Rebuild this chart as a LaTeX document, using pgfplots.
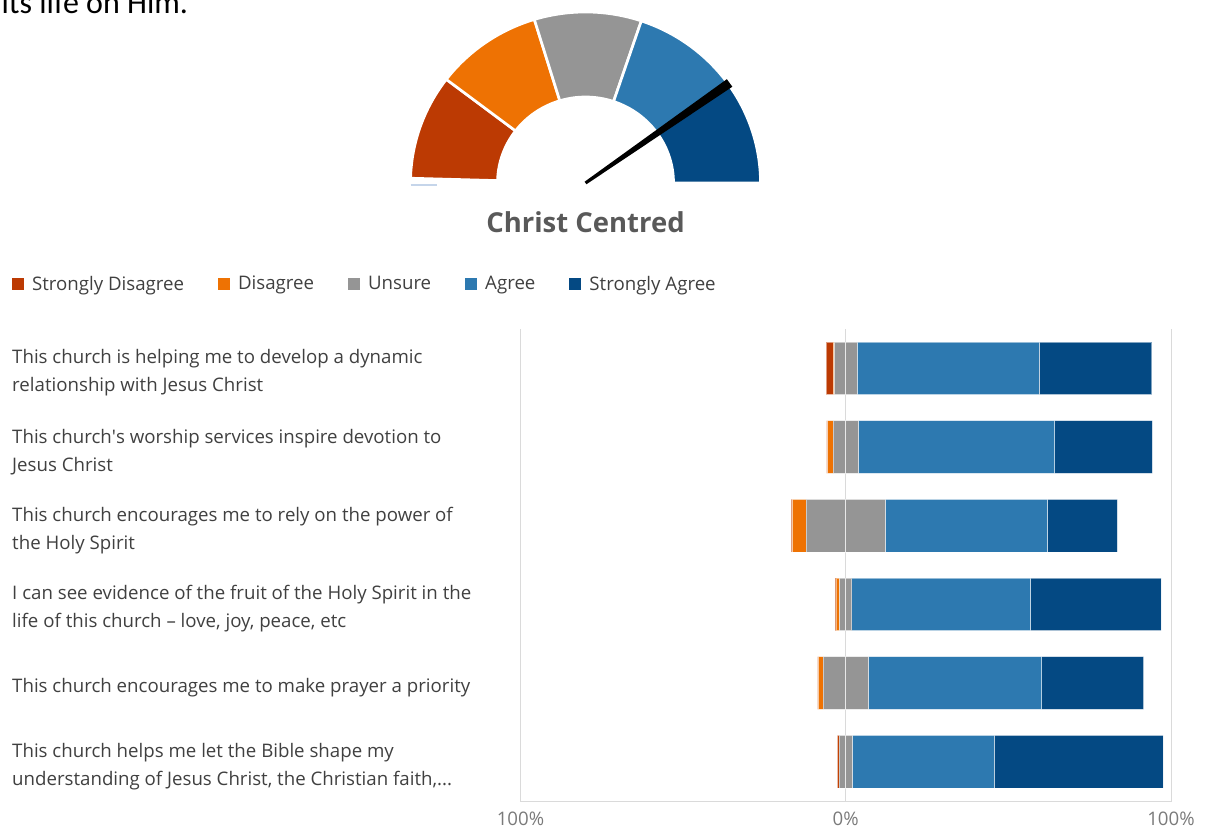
\documentclass[border=0pt]{standalone}
\usepackage{pgfplots}
\usepackage{pgfplotstable}
\pgfplotsset{compat=1.18}
\usepackage{fontspec}
\setmainfont{Open Sans}
\newfontfamily\calibri{Carlito}
\definecolor{cSD}{HTML}{BC3A03}
\definecolor{cD}{HTML}{EE7203}
\definecolor{cU}{HTML}{959595}
\definecolor{cA}{HTML}{2D79B0}
\definecolor{cSA}{HTML}{044983}
\definecolor{txt}{HTML}{404040}
\definecolor{tickc}{HTML}{7A7A7A}
\definecolor{titlec}{HTML}{595959}
\definecolor{gridc}{HTML}{DADADA}
\definecolor{artc}{HTML}{C5D5EA}

% survey shares in percent
\pgfplotstableread{
cat SD D U A SA
1 2.2 0.3 7.0 55.9 34.7
2 0.3 1.7 7.7 60.4 30.0
3 0.4 4.2 24.4 49.8 21.5
4 0.2 1.2 3.7 54.9 40.2
5 0.2 1.5 13.9 53.3 31.3
6 0.5 0.1 4.0 43.6 52.0
}\survey

\pgfplotsset{barax/.style={
  at={(390.375pt,20.25pt)}, anchor=south west,
  width=487.875pt, height=354pt, scale only axis,
  xmin=-100, xmax=100, ymin=0.5, ymax=6.5, y dir=reverse,
  xbar stacked, bar width=39.4pt, clip=false}}
\tikzset{barseg/.style={draw=white, draw opacity=0.5, line width=0.5pt}}

\newcommand\seg[3]{% colour, start angle, end angle
  \fill[#1, draw=white, line width=2pt]
   (axis cs:{cos(#2)},{sin(#2)}) arc[start angle=#2, end angle=#3, x radius=131.25pt, y radius=128.25pt]
   -- (axis cs:{0.503*cos(#3)},{0.503*sin(#3)}) arc[start angle=#3, end angle=#2, x radius=66pt, y radius=64.5pt] -- cycle;}

\begin{document}
\begin{tikzpicture}
\path[use as bounding box] (0,0) rectangle (903.75pt,621pt);

% cut-off text at the top (as in the reference)
\node[anchor=base west, inner sep=0pt, font=\calibri\fontsize{24}{28}\selectfont] at (1pt,611pt) {its life on Him.};

% ---------- gauge ----------
\begin{axis}[at={(307.875pt,483.75pt)}, anchor=south west,
  width=262.5pt, height=128.25pt, scale only axis,
  xmin=-1, xmax=1, ymin=0, ymax=1, hide axis, clip=false]
\seg{cSD}{178.4}{142.7}
\seg{cD}{142.7}{107.0}
\seg{cU}{107.0}{71.4}
\seg{cA}{71.4}{35.7}
\seg{cSA}{35.7}{0}
\draw[artc, line width=1.5pt] (axis cs:-1,-0.012) -- (axis cs:-0.85,-0.012);
% needle at 35.4 degrees
\fill[black] (axis cs:{0.009*cos(125.4)},{0.009*sin(125.4)})
  -- (axis cs:{1.01*cos(35.4)+0.027*cos(125.4)},{1.01*sin(35.4)+0.027*sin(125.4)})
  -- (axis cs:{1.01*cos(35.4)-0.027*cos(125.4)},{1.01*sin(35.4)-0.027*sin(125.4)})
  -- (axis cs:{-0.009*cos(125.4)},{-0.009*sin(125.4)}) -- cycle;
\end{axis}

\node[anchor=base, inner sep=0pt, text=titlec, font=\bfseries\fontsize{20.6}{24}\selectfont] at (439.125pt,446.5pt) {Christ Centred};

% ---------- diverging bars: left side ----------
\begin{axis}[barax,
  axis line style={draw=none},
  xtick={-100,0,100}, xticklabels={100\%,0\%,100\%},
  ytick={1,2,3,4,5,6},
  yticklabels={{This church is helping me to develop a dynamic\\relationship with Jesus Christ},
    {This church\textquotesingle s worship services inspire devotion to\\Jesus Christ},
    {This church encourages me to rely on the power of\\the Holy Spirit},
    {I can see evidence of the fruit of the Holy Spirit in the\\life of this church – love, joy, peace, etc},
    {This church encourages me to make prayer a priority},
    {This church helps me let the Bible shape my\\understanding of Jesus Christ, the Christian faith,{...}}},
  major tick length=0pt, tick style={draw=none},
  tick label style={font=\fontsize{14}{21}\selectfont},
  xticklabel style={text=tickc, yshift=-4.5pt},
  yticklabel style={anchor=west, align=left, text=txt, inner sep=0pt, xshift=-381.4pt, yshift=-3.5pt},
  legend columns=5,
  legend image code/.code={\path[#1] (0pt,-4.5pt) rectangle (9pt,4.5pt);},
  legend style={draw=none, fill=none, inner sep=0pt, outer sep=0pt,
    at={(-0.7817,1.0953)}, anchor=west,
    font=\fontsize{14}{17}\selectfont, text=txt,
    column sep=6pt,
    /tikz/every even column/.append style={column sep=25.5pt},
    nodes={inner sep=0pt}},
]
\addplot[fill=cU, barseg, forget plot] table[x expr=-\thisrow{U}/2, y=cat]{\survey};
\addplot[fill=cD, barseg, forget plot] table[x expr=-\thisrow{D}, y=cat]{\survey};
\addplot[fill=cSD, barseg, forget plot] table[x expr=-\thisrow{SD}, y=cat]{\survey};
\addlegendimage{fill=cSD, draw=none}\addlegendentry{Strongly Disagree}
\addlegendimage{fill=cD, draw=none}\addlegendentry{Disagree}
\addlegendimage{fill=cU, draw=none}\addlegendentry{Unsure}
\addlegendimage{fill=cA, draw=none}\addlegendentry{Agree}
\addlegendimage{fill=cSA, draw=none}\addlegendentry{Strongly Agree}
\end{axis}

% ---------- diverging bars: right side ----------
\begin{axis}[barax, hide axis]
\addplot[fill=cU, barseg] table[x expr=\thisrow{U}/2, y=cat]{\survey};
\addplot[fill=cA, barseg] table[x=A, y=cat]{\survey};
\addplot[fill=cSA, barseg] table[x=SA, y=cat]{\survey};
\draw[gridc, line width=0.75pt] (axis cs:-100,0.5) -- (axis cs:-100,6.5) -- (axis cs:100,6.5) -- (axis cs:100,0.5);
\draw[gridc, line width=0.75pt] (axis cs:0,0.5) -- (axis cs:0,6.5);
\end{axis}
\end{tikzpicture}
\end{document}
